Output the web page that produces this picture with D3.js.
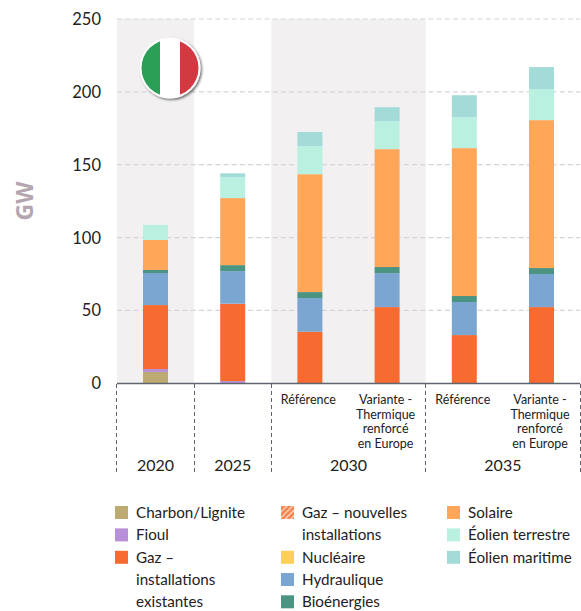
<!DOCTYPE html>
<html><head><meta charset="utf-8">
<script src="https://cdn.jsdelivr.net/npm/d3@7"></script>
<style>html,body{margin:0;padding:0;background:#fff}svg{display:block}text{font-family:Lato,"Open Sans",sans-serif;fill:#222}</style>
</head><body><div id="c"></div>
<script>
const bars = ["2020","2025","2030R","2030V","2035R","2035V"];
const years = ["2020","2025","2030","2035"];
const subLabels = [[],[],["Référence"],["Variante -","Thermique","renforcé","en Europe"],["Référence"],["Variante -","Thermique","renforcé","en Europe"]];
const yTicks = [0,50,100,150,200,250];
const charbon = [7.8,0,0,0,0,0];
const fioul = [2,1.5,0,0,0,0];
const gazExistant = [43.9,53.1,35.4,52.3,33.1,52.3];
const hydraulique = [22,22.4,23.1,23.3,22.7,22.7];
const bioenergies = [2.1,4.1,4.1,4.2,4.1,4.1];
const solaire = [20.6,46,80.9,80.9,101.5,101.5];
const eolienTerrestre = [10.3,14.5,19.3,19.2,21.2,21.3];
const eolienMaritime = [0,2.5,9.6,9.6,15.1,15.1];
const seriesNames = ["Charbon/Lignite","Fioul","Gaz existant","Hydraulique","Bioénergies","Solaire","Éolien terrestre","Éolien maritime"];
const seriesValues = [charbon,fioul,gazExistant,hydraulique,bioenergies,solaire,eolienTerrestre,eolienMaritime];
const seriesColors = ["#bcaa72","#b88fd9","#f76b30","#7ba6d2","#4b9482","#ffa658","#b9f0e0","#a3dbd8"];
const legendCols = [
 [[["Charbon/Lignite"],"#bcaa72"],[["Fioul"],"#b88fd9"],[["Gaz –","installations","existantes"],"#f76b30"]],
 [[["Gaz – nouvelles","installations"],"url(#hatch)"],[["Nucléaire"],"#fdcf58"],[["Hydraulique"],"#7ba6d2"],[["Bioénergies"],"#4b9482"]],
 [[["Solaire"],"#ffa658"],[["Éolien terrestre"],"#b9f0e0"],[["Éolien maritime"],"#a3dbd8"]]
];
const W=581,H=611;
const svg=d3.select("#c").append("svg").attr("width",W).attr("height",H);
const defs=svg.append("defs");
const hatch=defs.append("pattern").attr("id","hatch").attr("width",4).attr("height",4).attr("patternUnits","userSpaceOnUse").attr("patternTransform","rotate(45)");
hatch.append("rect").attr("width",4).attr("height",4).attr("fill","#f6824a");
hatch.append("rect").attr("width",1.3).attr("height",4).attr("fill","#fde0d0");
const sh=defs.append("filter").attr("id","sh").attr("x","-20%").attr("y","-20%").attr("width","150%").attr("height","150%");
sh.append("feDropShadow").attr("dx",1.5).attr("dy",1.5).attr("stdDeviation",1.2).attr("flood-color","#000").attr("flood-opacity",.55);
defs.append("clipPath").attr("id","fc").append("circle").attr("cx",170).attr("cy",68).attr("r",28.5);

const y=d3.scaleLinear().domain([0,250]).range([383.3,19]);
const x=d3.scalePoint().domain(bars).range([155.5,541.5]);
const BW=25, step=x.step();
const edgeBefore=b=>x(b)-step/2;
const edges=[edgeBefore("2020"),edgeBefore("2025"),edgeBefore("2030R"),edgeBefore("2035R"),x("2035V")+step/2];
const yearCentres=years.map((t,i)=>(edges[i]+edges[i+1])/2);

// bands (2020 and 2030 columns)
[0,2].forEach(i=>{
  svg.append("rect").attr("x",edges[i]).attr("y",y(250)).attr("width",edges[i+1]-edges[i]).attr("height",y(0)-y(250)).attr("fill","#f2f0f1");
});
// grid
svg.append("g").selectAll("line").data(yTicks.filter(d=>d>0)).join("line")
  .attr("x1",edges[0]).attr("x2",edges[4]).attr("y1",d=>y(d)).attr("y2",d=>y(d))
  .attr("stroke","#d4d3da").attr("stroke-width",1.2).attr("stroke-dasharray","5 3.2");
// y labels
svg.append("g").selectAll("text").data(yTicks).join("text")
 .attr("x",101).attr("y",d=>y(d)+6).attr("text-anchor","end").attr("font-size",16.5).text(d=>d);
svg.append("text").attr("transform","translate(33,201) rotate(-90)").attr("text-anchor","middle")
 .attr("font-size",23).attr("font-weight",700).style("font-family","'Open Sans'").style("fill","#b4a6b1").text("GW");
// stacks
const stackData=bars.map((b,i)=>{const o={bar:b};seriesNames.forEach((n,s)=>o[n]=seriesValues[s][i]);return o;});
const stacked=d3.stack().keys(seriesNames)(stackData);
svg.append("g").selectAll("g").data(stacked).join("g").attr("fill",(d,i)=>seriesColors[i])
 .selectAll("rect").data(d=>d.filter(p=>p[1]>p[0])).join("rect")
 .attr("x",d=>x(d.data.bar)-BW/2).attr("width",BW)
 .attr("y",d=>y(d[1])).attr("height",d=>y(d[0])-y(d[1]));
// axis
svg.append("line").attr("x1",edges[0]).attr("x2",edges[4]).attr("y1",383.5).attr("y2",383.5).attr("stroke","#5f6470").attr("stroke-width",1.5);
svg.append("g").selectAll("line").data(edges).join("line")
  .attr("x1",d=>Math.floor(d)+.5).attr("x2",d=>Math.floor(d)+.5).attr("y1",384).attr("y2",473)
  .attr("stroke","#5f6470").attr("stroke-width",1).attr("stroke-dasharray","4 3");
// sub labels
bars.forEach((b,i)=>{
  if(!subLabels[i].length) return;
  const t=svg.append("text").attr("text-anchor","middle").attr("font-size",12.5);
  subLabels[i].forEach((l,j)=>t.append("tspan").attr("x",x(b)-1.5).attr("y",404+j*14.6).text(l));
});
// years
svg.append("g").selectAll("text").data(years).join("text")
  .attr("x",(d,i)=>yearCentres[i]).attr("y",471).attr("text-anchor","middle").attr("font-size",16).text(d=>d);
// legend
const colX=[115,281,447];
const rowY=[513,535.4,557.8,580,602.3];
legendCols.forEach((col,c)=>{
  let r=0;
  col.forEach(([lines,color])=>{
    svg.append("rect").attr("x",colX[c]).attr("y",rowY[r]-7).attr("width",13).attr("height",13).attr("fill",color);
    lines.forEach(l=>{
      svg.append("text").attr("x",colX[c]+21).attr("y",rowY[r]+5).attr("font-size",15.2).text(l);
      r++;
    });
  });
});
// flag
const f=svg.append("g");
f.append("circle").attr("cx",170).attr("cy",68).attr("r",30.5).attr("fill","#fff").attr("filter","url(#sh)");
const fg=f.append("g").attr("clip-path","url(#fc)");
fg.append("rect").attr("x",140).attr("y",38).attr("width",20).attr("height",60).attr("fill","#2a9f55");
fg.append("rect").attr("x",180).attr("y",38).attr("width",20).attr("height",60).attr("fill","#d13a40");
</script></body></html>
